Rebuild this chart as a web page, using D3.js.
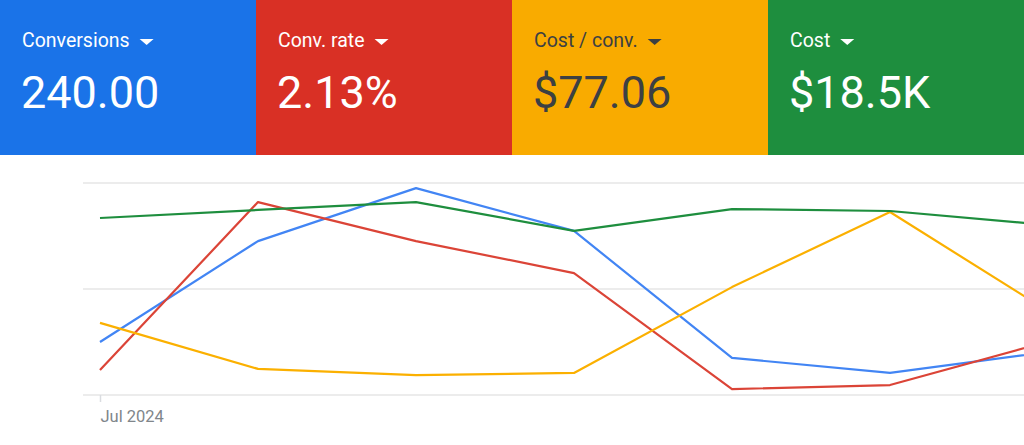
<!DOCTYPE html>
<html><head><meta charset="utf-8">
<script src="https://cdn.jsdelivr.net/npm/d3@7"></script>
<style>html,body{margin:0;padding:0;background:#fff;overflow:hidden}svg{display:block;font-family:Roboto,"Noto Sans",Arial,sans-serif}</style>
</head><body><div id="chart"></div>
<script>
// KPI tiles
const metricNames = ["Conversions", "Conv. rate", "Cost / conv.", "Cost"];
const metricValues = ["240.00", "2.13%", "$77.06", "$18.5K"];
const tileColors = ["#1a73e8", "#d93025", "#f9ab00", "#1e8e3e"];
const tileText = ["#ffffff", "#ffffff", "#3c4043", "#ffffff"];

// Weekly periods (index-normalised values, each series on its own hidden axis)
const periods = ["2024-07-01", "2024-07-08", "2024-07-15", "2024-07-22", "2024-07-29", "2024-08-05", "2024-08-12"];
const tickLabels = ["Jul 2024"];
const conversions = [25, 72.6, 97.6, 77.4, 17.5, 10.4, 20.3];
const convRate = [11.8, 91, 72.6, 57.5, 2.8, 4.7, 25.2];
const costPerConv = [34, 12.3, 9.4, 10.4, 50.9, 86.3, 39.6];
const cost = [83.5, 87.3, 91, 77.4, 87.7, 86.8, 80.2];
const gridValues = [0, 50, 100];

const lineColors = ["#4285f4", "#db4437", "#fbb000", "#1e8e3e"];
const series = [conversions, convRate, costPerConv, cost];

const W = 1024, H = 445;
const svg = d3.select("#chart").append("svg").attr("width", W).attr("height", H);

// tiles
const tileW = W / 4, tileH = 155;
const tiles = svg.selectAll("g.tile").data(metricNames).join("g")
  .attr("class", "tile").attr("transform", (d, i) => `translate(${i * tileW},0)`);
tiles.append("rect").attr("width", tileW).attr("height", tileH).attr("fill", (d, i) => tileColors[i]);
tiles.each(function (d, i) {
  const g = d3.select(this);
  const t = g.append("text").attr("x", 22).attr("y", 47).attr("font-size", 19.5)
    .attr("fill", tileText[i]).text(d);
  const w = t.node().getComputedTextLength();
  const tx = 22 + w + 10;
  g.append("path").attr("d", `M${tx},39 L${tx + 14},39 L${tx + 7},45 Z`).attr("fill", tileText[i]);
  g.append("text").attr("x", 21).attr("y", 108).attr("font-size", 45)
    .attr("fill", tileText[i]).text(metricValues[i]);
});

// chart
const x = d3.scaleLinear().domain([0, periods.length - 1]).range([100, 100 + 6 * 158]);
const y = d3.scaleLinear().domain([0, 100]).range([395, 183]);

svg.append("g").selectAll("line").data(gridValues).join("line")
  .attr("x1", 83).attr("x2", W).attr("y1", d => y(d)).attr("y2", d => y(d))
  .attr("stroke", "#e6e6e6").attr("stroke-width", 1.5);

// x axis tick
const xAxis = d3.axisBottom(x).tickValues([0]).tickFormat((d, i) => tickLabels[i]).tickSize(7).tickPadding(0);
const ax = svg.append("g").attr("transform", `translate(0,${y(0)})`).call(xAxis);
ax.select(".domain").remove();
ax.selectAll("line").attr("stroke", "#dadce0").attr("stroke-width", 1.5);
ax.selectAll("text").attr("font-size", 16.5).attr("fill", "#80868b").attr("text-anchor", "start")
  .attr("font-family", "Roboto, sans-serif").attr("y", 27).attr("dy", 0);

const line = d3.line().x((d, i) => x(i)).y(d => y(d));
svg.append("g").selectAll("path").data(series).join("path")
  .attr("d", d => line(d)).attr("fill", "none")
  .attr("stroke", (d, i) => lineColors[i]).attr("stroke-width", 2.2).attr("stroke-linejoin", "round");
</script>
</body></html>
